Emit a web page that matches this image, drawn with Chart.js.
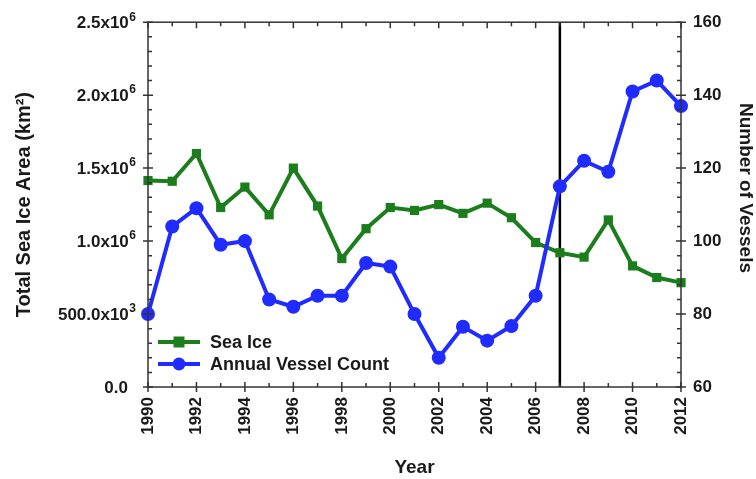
<!DOCTYPE html>
<html>
<head>
<meta charset="utf-8">
<script src="https://cdn.jsdelivr.net/npm/chart.js@4/dist/chart.umd.min.js"></script>
<style>
html, body { margin: 0; padding: 0; background: #fff; }
#wrap { width: 756px; height: 479px; }
</style>
</head>
<body>
<div id="wrap"><canvas id="chart"></canvas></div>
<script>
var years = [1990, 1991, 1992, 1993, 1994, 1995, 1996, 1997, 1998, 1999, 2000, 2001,
             2002, 2003, 2004, 2005, 2006, 2007, 2008, 2009, 2010, 2011, 2012];
var seaIce = [1415000, 1410000, 1600000, 1230000, 1370000, 1180000, 1500000, 1240000,
              880000, 1085000, 1230000, 1210000, 1250000, 1190000, 1260000, 1160000,
              990000, 920000, 890000, 1145000, 830000, 750000, 715000];
var vessels = [80, 104, 109, 99, 100, 84, 82, 85, 85, 94, 93, 80,
               68, 76.5, 72.7, 76.7, 85, 115, 122, 119, 141, 144, 137];
var iceTicks = [0, 500000, 1000000, 1500000, 2000000, 2500000];
var iceTickBase = ['0.0', '500.0x10', '1.0x10', '1.5x10', '2.0x10', '2.5x10'];
var iceTickExp = ['', '3', '6', '6', '6', '6'];
var vesselTicks = [60, 80, 100, 120, 140, 160];
var markerYear = 2007;

var green = '#1c7d1c';
var blue = '#1f2bff';
var ink = '#1a1a1a';
var fam = "'Liberation Sans', Arial, sans-serif";
Chart.defaults.font.family = fam;
Chart.defaults.color = ink;

// frame, minor/major ticks, left labels with superscripts, 2007 marker line, legend
var framePlugin = {
    id: 'frame',
    beforeDatasetsDraw: function (chart) {
        var a = chart.chartArea, c = chart.ctx;
        var x = chart.scales.x.getPixelForValue(markerYear);
        c.save();
        c.strokeStyle = '#000';
        c.lineWidth = 2.5;
        c.beginPath();
        c.moveTo(x, a.top);
        c.lineTo(x, a.bottom);
        c.stroke();
        c.restore();
    },
    afterDraw: function (chart) {
        var a = chart.chartArea, c = chart.ctx;
        var sx = chart.scales.x, sy = chart.scales.y;
        c.save();
        c.strokeStyle = '#333';
        c.lineWidth = 1.5;
        c.strokeRect(a.left, a.top, a.right - a.left, a.bottom - a.top);
        c.beginPath();
        for (var yr = years[0]; yr <= years[years.length - 1]; yr++) {
            var px = sx.getPixelForValue(yr);
            var major = (yr % 2 === 0);
            c.moveTo(px, a.bottom + (major ? 5 : 0));
            c.lineTo(px, a.bottom - (major ? 5 : 4));
            c.moveTo(px, a.top);
            c.lineTo(px, a.top + (major ? 6 : 4));
        }
        for (var v = 0; v <= 2500000; v += 100000) {
            var py = sy.getPixelForValue(v);
            var maj = (v % 500000 === 0);
            c.moveTo(a.left - (maj ? 5 : 0), py);
            c.lineTo(a.left + (maj ? 5 : 4), py);
            c.moveTo(a.right + (maj ? 5 : 0), py);
            c.lineTo(a.right - (maj ? 5 : 4), py);
        }
        c.stroke();

        // left tick labels
        c.fillStyle = ink;
        c.textBaseline = 'middle';
        iceTicks.forEach(function (t, i) {
            var py = sy.getPixelForValue(t);
            var right = a.left - 12;
            if (iceTickExp[i]) {
                c.font = 'bold 12px ' + fam;
                c.textAlign = 'right';
                c.fillText(iceTickExp[i], right, py - 5);
                var ew = c.measureText(iceTickExp[i]).width;
                c.font = 'bold 17px ' + fam;
                c.fillText(iceTickBase[i], right - ew - 0.5, py + 1);
            } else {
                c.font = 'bold 17px ' + fam;
                c.textAlign = 'right';
                c.fillText(iceTickBase[i], right - 8, py + 1);
            }
        });

        // right axis title
        c.save();
        c.translate(a.right + 64, 188);
        c.rotate(Math.PI / 2);
        c.textAlign = 'center';
        c.textBaseline = 'middle';
        c.font = 'bold 19px ' + fam;
        c.fillText('Number of Vessels', 0, 0);
        c.restore();
        c.restore();

        // legend inside plot
        var items = [
            { label: 'Sea Ice', color: green, style: 'rect', y: 342 },
            { label: 'Annual Vessel Count', color: blue, style: 'circle', y: 364 }
        ];
        c.save();
        items.forEach(function (it) {
            c.strokeStyle = it.color;
            c.fillStyle = it.color;
            c.lineWidth = 4;
            c.beginPath();
            c.moveTo(a.left + 10, it.y);
            c.lineTo(a.left + 52, it.y);
            c.stroke();
            var cx = a.left + 31;
            if (it.style === 'rect') {
                c.fillRect(cx - 5.5, it.y - 5.5, 11, 11);
            } else {
                c.beginPath();
                c.arc(cx, it.y, 6.5, 0, Math.PI * 2);
                c.fill();
            }
            c.fillStyle = ink;
            c.font = 'bold 18px ' + fam;
            c.textBaseline = 'middle';
            c.fillText(it.label, a.left + 62, it.y + 1);
        });
        c.restore();
    }
};

var ctx = document.getElementById('chart').getContext('2d');
var chart = new Chart(ctx, {
    type: 'line',
    data: {
        datasets: [
            {
                label: 'Annual Vessel Count',
                data: years.map(function (y, i) { return { x: y, y: vessels[i] }; }),
                yAxisID: 'y1',
                borderColor: blue,
                backgroundColor: blue,
                borderWidth: 4,
                pointStyle: 'circle',
                pointRadius: 7,
                pointBorderWidth: 0,
                clip: false,
                tension: 0
            },
            {
                label: 'Sea Ice',
                data: years.map(function (y, i) { return { x: y, y: seaIce[i] }; }),
                yAxisID: 'y',
                borderColor: green,
                backgroundColor: green,
                borderWidth: 4,
                pointStyle: 'rect',
                pointRadius: 6.5,
                pointBorderWidth: 0,
                clip: false,
                tension: 0
            }
        ]
    },
    options: {
        responsive: true,
        maintainAspectRatio: false,
        animation: false,
        layout: { padding: { top: 16, left: 0, right: 0, bottom: 0 } },
        plugins: {
            legend: { display: false },
            tooltip: { enabled: false }
        },
        scales: {
            x: {
                type: 'linear',
                min: 1990,
                max: 2012,
                grid: { display: false, drawTicks: false },
                border: { display: false },
                afterFit: function (s) { s.height = 92; },
                afterBuildTicks: function (s) {
                    s.ticks = years.filter(function (y) { return y % 2 === 0; }).map(function (y) { return { value: y }; });
                },
                ticks: {
                    minRotation: 90,
                    maxRotation: 90,
                    padding: 10,
                    font: { size: 17, weight: 'bold' },
                    callback: function (v) { return String(v); }
                },
                title: {
                    display: true,
                    text: 'Year',
                    font: { size: 19, weight: 'bold' },
                    padding: { bottom: 0, top: 0 }
                }
            },
            y: {
                position: 'left',
                min: 0,
                max: 2500000,
                grid: { display: false, drawTicks: false },
                border: { display: false },
                afterFit: function (s) { s.width = 148; },
                afterBuildTicks: function (s) {
                    s.ticks = iceTicks.map(function (v) { return { value: v }; });
                },
                ticks: { display: false },
                title: {
                    display: true,
                    text: 'Total Sea Ice Area (km\u00b2)',
                    font: { size: 20, weight: 'bold' },
                    padding: { top: 12, bottom: 0 }
                }
            },
            y1: {
                position: 'right',
                min: 60,
                max: 160,
                grid: { display: false, drawTicks: false },
                border: { display: false },
                afterFit: function (s) { s.width = 75; },
                afterBuildTicks: function (s) {
                    s.ticks = vesselTicks.map(function (v) { return { value: v }; });
                },
                ticks: {
                    padding: 12,
                    font: { size: 17, weight: 'bold' }
                },
                title: { display: false }
            }
        }
    },
    plugins: [framePlugin]
});
</script>
</body>
</html>
